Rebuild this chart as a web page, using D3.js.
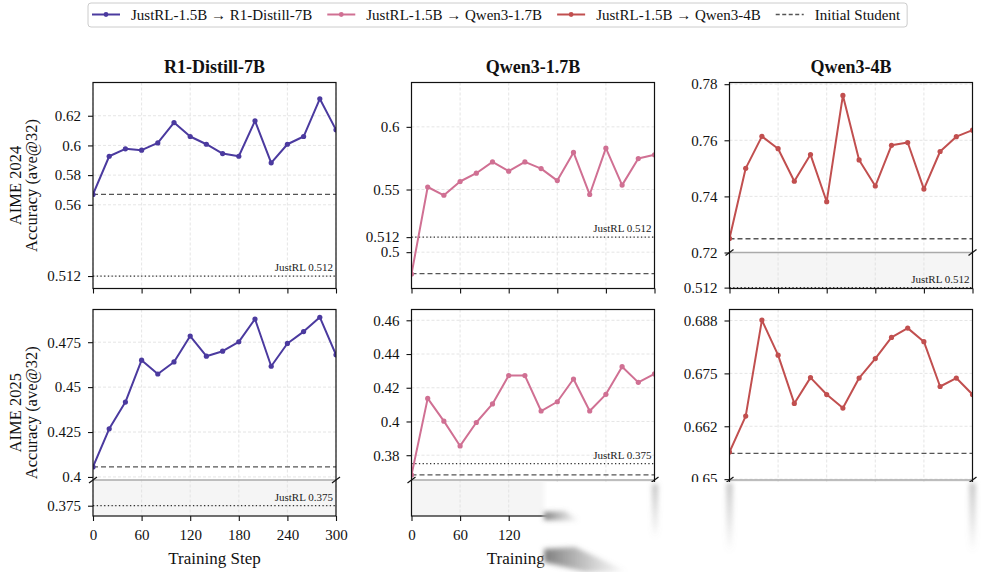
<!DOCTYPE html>
<html>
<head>
<meta charset="utf-8">
<script src="https://cdn.jsdelivr.net/npm/d3@7"></script>
<style>
  body { margin: 0; background: #fff; }
</style>
</head>
<body>
<script>
// ---- data ----
const steps = [0, 20, 40, 60, 80, 100, 120, 140, 160, 180, 200, 220, 240, 260, 280, 300];
const xTicks = [0, 60, 120, 180, 240, 300];

const models = ["R1-Distill-7B", "Qwen3-1.7B", "Qwen3-4B"];
const benchmarks = ["AIME 2024", "AIME 2025"];
const seriesNames = ["JustRL-1.5B \u2192 R1-Distill-7B", "JustRL-1.5B \u2192 Qwen3-1.7B", "JustRL-1.5B \u2192 Qwen3-4B"];
const studentName = "Initial Student";

// AIME 2024
const r1Aime24 = [0.567, 0.5927, 0.5977, 0.5968, 0.6017, 0.6154, 0.6060, 0.6008, 0.5945, 0.5927, 0.6166, 0.5883, 0.6008, 0.6060, 0.6314, 0.6105];
const qwen17Aime24 = [0.4825, 0.552, 0.5454, 0.5564, 0.563, 0.572, 0.5646, 0.572, 0.5667, 0.5571, 0.5796, 0.546, 0.583, 0.5535, 0.5747, 0.5777];
const qwen4Aime24 = [0.725, 0.750, 0.7614, 0.757, 0.7454, 0.7549, 0.7381, 0.7760, 0.753, 0.7437, 0.7582, 0.7592, 0.7426, 0.756, 0.7613, 0.7636];

// AIME 2025
const r1Aime25 = [0.4056, 0.4268, 0.4417, 0.465, 0.4573, 0.464, 0.4784, 0.4672, 0.4700, 0.4752, 0.4879, 0.4616, 0.4743, 0.4809, 0.4889, 0.468];
const qwen17Aime25 = [0.3683, 0.4137, 0.4002, 0.3855, 0.3994, 0.4104, 0.4272, 0.4272, 0.4062, 0.4117, 0.4252, 0.4062, 0.4161, 0.4325, 0.4232, 0.4282];
const qwen4Aime25 = [0.6564, 0.6649, 0.6876, 0.6793, 0.6679, 0.674, 0.670, 0.6668, 0.6739, 0.6785, 0.6835, 0.6857, 0.6825, 0.6719, 0.6739, 0.670];

const studentAime24 = [0.567, 0.4828, 0.7249];
const studentAime25 = [0.4056, 0.3683, 0.6561];
const justrlAime24 = 0.512;
const justrlAime25 = 0.375;

// y ticks and their printed labels
const yTicks24 = [[0.512, 0.56, 0.58, 0.6, 0.62], [0.5, 0.512, 0.55, 0.6], [0.512, 0.72, 0.74, 0.76, 0.78]];
const yLabels24 = [["0.512", "0.56", "0.58", "0.6", "0.62"], ["0.5", "0.512", "0.55", "0.6"], ["0.512", "0.72", "0.74", "0.76", "0.78"]];
const yTicks25 = [[0.375, 0.4, 0.425, 0.45, 0.475], [0.38, 0.4, 0.42, 0.44, 0.46], [0.375, 0.65, 0.6625, 0.675, 0.6875]];
const yLabels25 = [["0.375", "0.4", "0.425", "0.45", "0.475"], ["0.38", "0.4", "0.42", "0.44", "0.46"], ["0.375", "0.65", "0.662", "0.675", "0.688"]];

// visible y windows (upper part, and the squeezed part below the break)
const upper24 = [[0.5036, 0.6424], [0.471, 0.6354], [0.72, 0.7806]];
const lower24 = [null, null, [0.5118, 0.52]];
const upper25 = [[0.3983, 0.4932], [0.3653, 0.4664], [0.6498, 0.6901]];
const lower25 = [[0.369, 0.39], [0.30, 0.33], [0.369, 0.39]];

const colors = ["#4b3a9f", "#d07093", "#c14f4f"];

// ---- layout ----
const width = 989, height = 572;
const serif = '"Liberation Serif", "DejaVu Serif", "Times New Roman", serif';
const colX = [93, 411.5, 729.5];
const panelW = 243;
const rowTop = [82.5, 309.5];
const rowBottom = [288.5, 516];
const lowerH = 36;

const svg = d3.select("body").append("svg")
    .attr("width", width)
    .attr("height", height)
    .style("font-family", serif);

const x = d3.scaleLinear().domain([0, 300]).range([0, panelW]);

const series24 = [r1Aime24, qwen17Aime24, qwen4Aime24];
const series25 = [r1Aime25, qwen17Aime25, qwen4Aime25];

let panels = [];
for (let c = 0; c < 3; c++) {
    panels.push({ row: 0, col: c, values: series24[c], student: studentAime24[c], justrl: justrlAime24,
        upper: upper24[c], lower: lower24[c], ticks: yTicks24[c], labels: yLabels24[c] });
}
for (let c = 0; c < 3; c++) {
    panels.push({ row: 1, col: c, values: series25[c], student: studentAime25[c], justrl: justrlAime25,
        upper: upper25[c], lower: lower25[c], ticks: yTicks25[c], labels: yLabels25[c] });
}

panels.forEach((p, i) => {
    const h = rowBottom[p.row] - rowTop[p.row];
    const ub = p.lower ? h - lowerH : h;
    const yU = d3.scaleLinear().domain(p.upper).range([ub, 0]);
    const yL = p.lower ? d3.scaleLinear().domain(p.lower).range([h, ub]) : null;
    const yOf = v => (!yL || v >= p.upper[0]) ? yU(v) : yL(v);
    const color = colors[p.col];

    const g = svg.append("g")
        .attr("transform", "translate(" + colX[p.col] + "," + rowTop[p.row] + ")");

    if (yL) {
        g.append("rect")
            .attr("x", 0).attr("y", ub)
            .attr("width", panelW).attr("height", h - ub)
            .attr("fill", "#f5f5f5");
    }

    // grid
    g.selectAll("line.vgrid")
        .data(xTicks)
        .enter().append("line")
        .attr("class", "vgrid")
        .attr("x1", d => x(d)).attr("x2", d => x(d))
        .attr("y1", 0).attr("y2", h)
        .attr("stroke", "#dedede").attr("stroke-width", 0.8)
        .attr("stroke-dasharray", "3,2");

    g.selectAll("line.hgrid")
        .data(p.ticks)
        .enter().append("line")
        .attr("class", "hgrid")
        .attr("x1", 0).attr("x2", panelW)
        .attr("y1", d => yOf(d)).attr("y2", d => yOf(d))
        .attr("stroke", "#dedede").attr("stroke-width", 0.8)
        .attr("stroke-dasharray", "3,2");

    if (yL) {
        g.append("line")
            .attr("x1", 0).attr("x2", panelW)
            .attr("y1", ub).attr("y2", ub)
            .attr("stroke", "#aaaaaa").attr("stroke-width", 1.3);
    }

    // JustRL reference
    const jy = yOf(p.justrl);
    g.append("line")
        .attr("x1", 0).attr("x2", panelW)
        .attr("y1", jy).attr("y2", jy)
        .attr("stroke", "#333").attr("stroke-width", 1.3)
        .attr("stroke-dasharray", "1.3,2.4");
    g.append("text")
        .attr("x", panelW - 3)
        .attr("y", jy - 5)
        .attr("text-anchor", "end")
        .attr("font-size", 11)
        .attr("fill", "#222")
        .text("JustRL " + p.justrl);

    // initial student
    const sy = yU(p.student);
    g.append("line")
        .attr("x1", 0).attr("x2", panelW)
        .attr("y1", sy).attr("y2", sy)
        .attr("stroke", "#555").attr("stroke-width", 1.3)
        .attr("stroke-dasharray", "5,3");

    // series, clipped to the upper part
    const clipId = "clip" + i;
    g.append("clipPath").attr("id", clipId)
        .append("rect").attr("x", 0).attr("y", 0).attr("width", panelW).attr("height", ub);

    const pts = steps.map((s, k) => [s, p.values[k]]);
    const body = g.append("g").attr("clip-path", "url(#" + clipId + ")");
    body.append("path")
        .datum(pts)
        .attr("fill", "none")
        .attr("stroke", color)
        .attr("stroke-width", 2)
        .attr("stroke-linejoin", "round")
        .attr("d", d3.line().x(d => x(d[0])).y(d => yU(d[1])));
    body.selectAll("circle")
        .data(pts)
        .enter().append("circle")
        .attr("cx", d => x(d[0]))
        .attr("cy", d => yU(d[1]))
        .attr("r", 2.6)
        .attr("fill", color);

    // axes
    const label = t => p.labels[p.ticks.indexOf(t)];
    const uTicks = p.ticks.filter(t => !yL || t >= p.upper[0]);
    const lTicks = p.ticks.filter(t => yL && t < p.upper[0]);

    const styleAxis = a => {
        a.select(".domain").remove();
        a.attr("font-family", serif).attr("font-size", 15);
        a.selectAll("line").attr("stroke", "#111").attr("stroke-width", 1.1);
        a.selectAll("text").attr("fill", "#111");
    };

    g.append("g")
        .call(d3.axisLeft(yU).tickValues(uTicks).tickFormat(label).tickSize(5).tickPadding(7))
        .call(styleAxis);
    if (yL && lTicks.length) {
        g.append("g")
            .call(d3.axisLeft(yL).tickValues(lTicks).tickFormat(label).tickSize(5).tickPadding(7))
            .call(styleAxis);
    }

    const xAxis = d3.axisBottom(x).tickValues(xTicks).tickSize(5).tickPadding(8);
    if (p.row === 0) xAxis.tickFormat("");
    g.append("g")
        .attr("transform", "translate(0," + h + ")")
        .call(xAxis)
        .call(styleAxis);

    // frame
    g.append("rect")
        .attr("x", 0).attr("y", 0)
        .attr("width", panelW).attr("height", h)
        .attr("fill", "none")
        .attr("stroke", "#111").attr("stroke-width", 1.2);

    // break marks
    if (yL) {
        [0, panelW].forEach(bx => {
            g.append("line")
                .attr("x1", bx - 4).attr("y1", ub + 3)
                .attr("x2", bx + 4).attr("y2", ub - 3)
                .attr("stroke", "#111").attr("stroke-width", 1.2);
        });
    }

    if (p.row === 0) {
        svg.append("text")
            .attr("x", colX[p.col] + panelW / 2)
            .attr("y", 73)
            .attr("text-anchor", "middle")
            .attr("font-size", 18)
            .attr("font-weight", "bold")
            .attr("fill", "#111")
            .text(models[p.col]);
    } else {
        svg.append("text")
            .attr("x", colX[p.col] + panelW / 2)
            .attr("y", 564)
            .attr("text-anchor", "middle")
            .attr("font-size", 17)
            .attr("fill", "#111")
            .text("Training Step");
    }
});

// row labels
benchmarks.forEach((b, r) => {
    const cy = (rowTop[r] + rowBottom[r]) / 2;
    svg.append("text")
        .attr("transform", "translate(15," + cy + ") rotate(-90)")
        .attr("text-anchor", "middle")
        .attr("dominant-baseline", "central")
        .attr("font-size", 16.5)
        .attr("fill", "#111")
        .text(b);
    svg.append("text")
        .attr("transform", "translate(31," + cy + ") rotate(-90)")
        .attr("text-anchor", "middle")
        .attr("dominant-baseline", "central")
        .attr("font-size", 16.5)
        .attr("fill", "#111")
        .text("Accuracy (ave@32)");
});

// legend
const legend = svg.append("g");
const legendBox = legend.append("rect")
    .attr("x", 88).attr("y", 3)
    .attr("height", 24).attr("rx", 3)
    .attr("fill", "#fff").attr("stroke", "#cccccc").attr("stroke-width", 1);

let lx = 92;
const legendItems = seriesNames.map((n, k) => ({ name: n, color: colors[k], dash: null }))
    .concat([{ name: studentName, color: "#555", dash: "4,2.5" }]);
legendItems.forEach(item => {
    legend.append("line")
        .attr("x1", lx).attr("x2", lx + 28)
        .attr("y1", 14.5).attr("y2", 14.5)
        .attr("stroke", item.color)
        .attr("stroke-width", item.dash ? 1.3 : 2)
        .attr("stroke-dasharray", item.dash);
    if (!item.dash) {
        legend.append("circle").attr("cx", lx + 14).attr("cy", 14.5).attr("r", 2.4).attr("fill", item.color);
    }
    const t = legend.append("text")
        .attr("x", lx + 39)
        .attr("y", 19.5)
        .attr("font-size", 15)
        .attr("fill", "#111")
        .text(item.name);
    lx += 39 + t.node().getComputedTextLength() + 15;
});
legendBox.attr("width", lx - 88 - 8);

// washed-out patch in the lower right of the source image
const defs = svg.append("defs");
const fade = defs.append("linearGradient").attr("id", "fade").attr("x1", 0).attr("x2", 1);
fade.append("stop").attr("offset", 0).attr("stop-color", "#fff").attr("stop-opacity", 0);
fade.append("stop").attr("offset", 0.015).attr("stop-color", "#fff").attr("stop-opacity", 1);
const drip = defs.append("linearGradient").attr("id", "drip").attr("x1", 0).attr("x2", 0).attr("y1", 0).attr("y2", 1);
drip.append("stop").attr("offset", 0).attr("stop-color", "#888").attr("stop-opacity", 0.5);
drip.append("stop").attr("offset", 1).attr("stop-color", "#888").attr("stop-opacity", 0);
const streak = defs.append("linearGradient").attr("id", "streak").attr("x1", 0).attr("x2", 1);
streak.append("stop").attr("offset", 0).attr("stop-color", "#666").attr("stop-opacity", 0.85);
streak.append("stop").attr("offset", 1).attr("stop-color", "#888").attr("stop-opacity", 0);
defs.append("filter").attr("id", "blur").append("feGaussianBlur").attr("stdDeviation", 2.5);

svg.append("rect")
    .attr("x", 541).attr("y", 482)
    .attr("width", width - 541).attr("height", height - 482)
    .attr("fill", "url(#fade)");

const smear = svg.append("g").attr("filter", "url(#blur)");
[[655, 484, 538], [729.5, 483, 552], [972.5, 483, 552]].forEach(s => {
    smear.append("rect")
        .attr("x", s[0] - 3).attr("y", s[1])
        .attr("width", 6).attr("height", s[2] - s[1])
        .attr("fill", "url(#drip)");
});
smear.append("path").attr("d", "M544,512 L565,511 L580,521 L544,520 Z").attr("fill", "url(#streak)");
smear.append("path").attr("d", "M544,549 L575,547 L628,572 L585,572 L544,562 Z").attr("fill", "url(#streak)");
</script>
</body>
</html>
